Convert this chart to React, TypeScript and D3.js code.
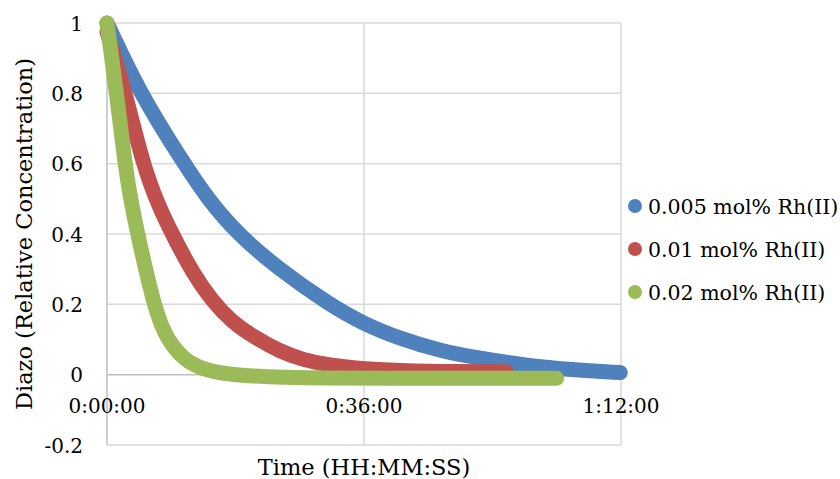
import React from "react";
import * as d3 from "d3";

const seriesNames = ["0.005 mol% Rh(II)", "0.01 mol% Rh(II)", "0.02 mol% Rh(II)"];
const seriesColors = ["#4F81BD", "#C0504D", "#9BBB59"];

// time in minutes
const blueT = [0, 4.6, 10.8, 14.1, 18.3, 24.2, 31.1, 36, 41, 46.6, 52.2, 56, 60.6, 66, 71.9];
const blueV = [1, 0.8, 0.6, 0.5, 0.4, 0.298, 0.2, 0.144, 0.103, 0.068, 0.047, 0.035, 0.022, 0.013, 0.006];

const redT = [0, 2.6, 5.0, 7.2, 9.5, 12, 14.7, 17.5, 20.5, 24.2, 27.5, 31, 36, 42, 48, 55.9];
const redV = [0.975, 0.8, 0.6, 0.48, 0.385, 0.29, 0.21, 0.15, 0.108, 0.066, 0.042, 0.027, 0.016, 0.011, 0.009, 0.008];

const greenT = [0, 1.35, 2.5, 3.3, 4.3, 5.4, 6.6, 7.7, 8.6, 9.6, 10.6, 11.6, 13, 15, 17.5, 20, 25, 30, 40, 50, 63];
const greenV = [1, 0.8, 0.6, 0.5, 0.4, 0.3, 0.2, 0.135, 0.1, 0.072, 0.05, 0.035, 0.02, 0.008, 0.001, -0.004, -0.008, -0.01, -0.01, -0.01, -0.01];

const xTicks = [0, 36, 72];
const yTicks = [-0.2, 0, 0.2, 0.4, 0.6, 0.8, 1];

const xTitle = "Time (HH:MM:SS)";
const yTitle = "Diazo (Relative Concentration)";

const W = 840;
const H = 479;
const left = 107;
const right = 621;
const top = 23;
const bottom = 445;

const fmtTime = (m: number) => {
  const h = Math.floor(m / 60);
  const mm = Math.floor(m % 60);
  return `${h}:${String(mm).padStart(2, "0")}:00`;
};

export default function App() {
  const x = d3.scaleLinear().domain([0, 72]).range([left, right]);
  const y = d3.scaleLinear().domain([-0.2, 1]).range([bottom, top]);
  const line = d3
    .line<[number, number]>()
    .x((d) => x(d[0]))
    .y((d) => y(d[1]))
    .curve(d3.curveBasis);

  const series = [
    blueT.map((t, i) => [t, blueV[i]] as [number, number]),
    redT.map((t, i) => [t, redV[i]] as [number, number]),
    greenT.map((t, i) => [t, greenV[i]] as [number, number]),
  ];

  const font = "'DejaVu Serif', serif";

  return (
    <svg
      width={W}
      height={H}
      style={{ position: "absolute", left: 0, top: 0, background: "#fff" }}
      fontFamily={font}
    >
      <rect x={0} y={0} width={W} height={H} fill="#fff" />
      {yTicks.map((v) => (
        <line
          key={"gy" + v}
          x1={left}
          x2={right}
          y1={y(v)}
          y2={y(v)}
          stroke={v === 0 ? "#BFBFBF" : "#D9D9D9"}
          strokeWidth={1.5}
        />
      ))}
      {xTicks.map((t) => (
        <line
          key={"gx" + t}
          x1={x(t)}
          x2={x(t)}
          y1={top}
          y2={bottom}
          stroke={t === 0 ? "#BFBFBF" : "#D9D9D9"}
          strokeWidth={1.5}
        />
      ))}
      {yTicks.map((v) => (
        <text key={"ty" + v} x={83} y={y(v) + 7.5} textAnchor="end" fontSize={20} fill="#000">
          {String(v)}
        </text>
      ))}
      {xTicks.map((t) => (
        <text key={"tx" + t} x={x(t)} y={413} textAnchor="middle" fontSize={20} fill="#000">
          {fmtTime(t)}
        </text>
      ))}
      {series.map((s, i) => (
        <path
          key={"s" + i}
          d={line(s) || ""}
          fill="none"
          stroke={seriesColors[i]}
          strokeWidth={15}
          strokeLinecap="round"
          strokeLinejoin="round"
        />
      ))}
      <text
        x={(left + right) / 2}
        y={475}
        textAnchor="middle"
        fontSize={22.5}
        fill="#000"
      >
        {xTitle}
      </text>
      <text
        transform={`translate(32, ${(top + bottom) / 2}) rotate(-90)`}
        textAnchor="middle"
        fontSize={22.5}
        fill="#000"
      >
        {yTitle}
      </text>
      {seriesNames.map((n, i) => (
        <g key={"lg" + i} transform={`translate(0, ${206 + i * 43})`}>
          <circle cx={635} cy={0} r={7} fill={seriesColors[i]} />
          <text x={648} y={7.5} fontSize={20.5} fill="#000">
            {n}
          </text>
        </g>
      ))}
    </svg>
  );
}
